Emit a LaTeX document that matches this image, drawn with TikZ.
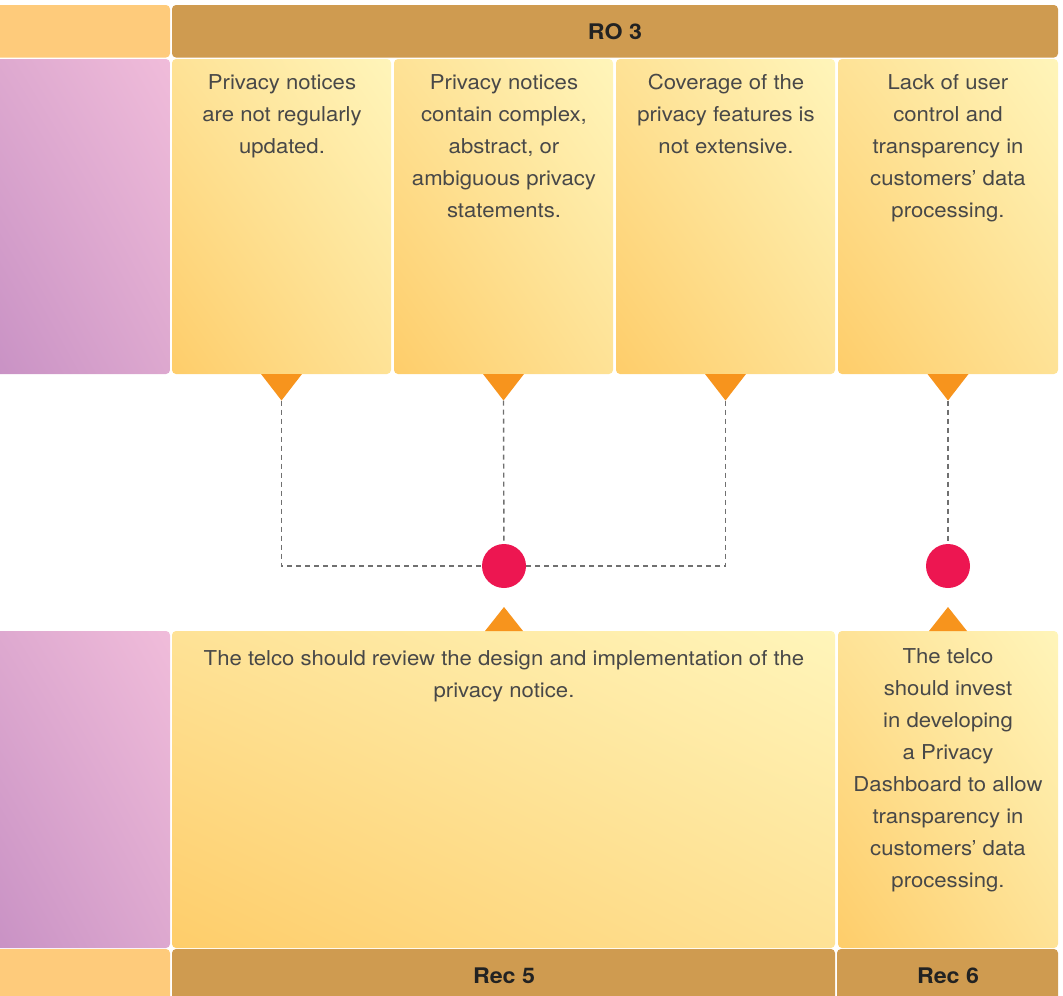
\documentclass[tikz,border=0pt]{standalone}
\usepackage{fontspec}
\setmainfont[FakeStretch=1.08]{TeX Gyre Heros}
\usetikzlibrary{shadings,calc}
\definecolor{hdr}{HTML}{CF9B50}
\definecolor{lorange}{HTML}{FECB7B}
\definecolor{ylight}{HTML}{FFF5BA}
\definecolor{ymid}{HTML}{FEE296}
\definecolor{ydark}{HTML}{FECD6A}
\definecolor{plight}{HTML}{F0BCDA}
\definecolor{pmid}{HTML}{DDA8CF}
\definecolor{pdark}{HTML}{C891C4}
\definecolor{tri}{HTML}{F7941D}
\definecolor{dotc}{HTML}{ED1651}
\definecolor{txt}{HTML}{484848}
\definecolor{dashc}{HTML}{707070}
\definecolor{headtxt}{HTML}{222222}
\begin{document}
\begin{tikzpicture}[x=1pt,y=-1pt,
 cell/.style={anchor=north west, inner sep=0pt, outer sep=0pt, rounded corners=4pt, draw=none},
 hdrbox/.style={cell, fill=hdr},
 obox/.style={cell, fill=lorange},
 ybox/.style={cell, upper right=ylight, lower left=ydark, upper left=ymid, lower right=ymid},
 pbox/.style={cell, upper right=plight, lower left=pdark, upper left=pmid, lower right=pmid},
 body/.style={anchor=north, inner sep=0pt, align=center, text=txt, font=\fontsize{20.5}{32}\selectfont},
 head/.style={inner sep=0pt, text=headtxt, font=\fontsize{21.5}{24}\selectfont\bfseries},
 trifill/.style={fill=tri},
 link/.style={draw=dashc, line width=1.4pt, dash pattern=on 5pt off 4pt},
 dotn/.style={circle, fill=dotc, minimum size=44pt, inner sep=0pt}]
\clip (0,0) rectangle (1063,996);
% top header row
\node[obox, minimum width=180pt, minimum height=52.5pt] (tl) at (-10,5) {};
\node[hdrbox, minimum width=886pt, minimum height=52.5pt] (ro) at (172,5) {};
\node[head] (rotxt) at (ro.center) {RO 3};
% top row boxes
\node[pbox, minimum width=180pt, minimum height=315pt] (p1) at (-10,59) {};
\node[ybox, minimum width=219pt, minimum height=315pt] (b1) at (172,59) {};
\node[ybox, minimum width=219pt, minimum height=315pt] (b2) at (394,59) {};
\node[ybox, minimum width=219pt, minimum height=315pt] (b3) at (616,59) {};
\node[ybox, minimum width=220pt, minimum height=315pt] (b4) at (838,59) {};
\node[body] (t1) at (282,74) {Privacy notices\\are not regularly\\updated.};
\node[body] (t2) at (504,74) {Privacy notices\\contain complex,\\abstract, or\\ambiguous privacy\\statements.};
\node[body] (t3) at (726,74) {Coverage of the\\privacy features is\\not extensive.};
\node[body] (t4) at (948,74) {Lack of user\\control and\\transparency in\\customers’ data\\processing.};
% down triangles
\foreach \b/\d in {b1/d1,b2/d2,b3/d3,b4/d4}{
  \fill[trifill] ($(\b.south)+(-20.5,0)$) -- ($(\b.south)+(20.5,0)$) -- ($(\b.south)+(0,26.5)$) -- cycle;
  \coordinate (\d) at ($(\b.south)+(0,26.5)$);
}
% bottom row boxes
\node[pbox, minimum width=180pt, minimum height=317pt] (p2) at (-10,631) {};
\node[ybox, minimum width=663pt, minimum height=317pt] (r5) at (172,631) {};
\node[ybox, minimum width=220pt, minimum height=317pt] (r6) at (838,631) {};
\node[body] (t5) at (504,650) {The telco should review the design and implementation of the\\privacy notice.};
\node[body] (t6) at (948,648) {The telco\\should invest\\in developing\\a Privacy\\Dashboard to allow\\transparency in\\customers’ data\\processing.};
% circles and connectors
\node[dotn] (c1) at (504,566) {};
\node[dotn] (c2) at (948,566) {};
\draw[link] (d1) |- (c1);
\draw[link] (d3) |- (c1);
\draw[link] (d2) -- (c1);
\draw[link] (d4) -- (c2);
% up triangles
\foreach \c/\r in {c1/r5,c2/r6}{
  \fill[trifill] ($(\c|-\r.north)+(-19,0)$) -- ($(\c|-\r.north)+(19,0)$) -- ($(\c|-\r.north)+(0,-24)$) -- cycle;
}
% bottom bar
\node[obox, minimum width=180pt, minimum height=57pt] (bl) at (-10,949) {};
\node[hdrbox, minimum width=663pt, minimum height=57pt] (rec5) at (172,949) {};
\node[hdrbox, minimum width=221pt, minimum height=57pt] (rec6) at (837,949) {};
\node[head] (rec5txt) at (504,976) {Rec 5};
\node[head] (rec6txt) at (948,976) {Rec 6};
\end{tikzpicture}
\end{document}
